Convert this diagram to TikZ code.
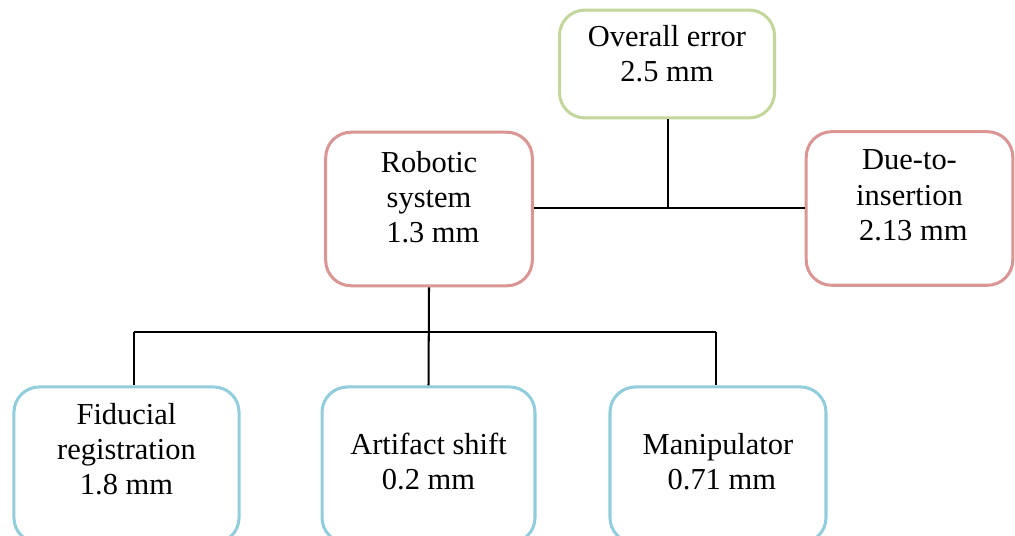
\documentclass[tikz,border=0pt]{standalone}
\usepackage{fontspec}
\setmainfont{Liberation Serif}
\definecolor{topgreen}{RGB}{195,214,155}
\definecolor{midred}{RGB}{217,150,148}
\definecolor{lowblue}{RGB}{146,205,220}

\begin{document}
\begin{tikzpicture}[
    x=0.394pt, y=-0.394pt,
    box/.style={draw, line width=1.2pt, rounded corners=10pt, align=center,
      inner sep=0pt, font=\fontsize{12}{13.8}\selectfont},
    top box/.style={box, draw=topgreen, minimum width=84.7pt, minimum height=42.5pt},
    mid box/.style={box, draw=midred, minimum width=81.4pt, minimum height=60.5pt},
    low box/.style={box, draw=lowblue, minimum height=61.5pt},
    link/.style={line width=0.8pt}
  ]
  \useasboundingbox (0,0) rectangle (1015,536);

  % tree of error sources
  \node[top box, text depth=8.7pt] (overall) at (667,64) {Overall error\\2.5 mm};
  \node[mid box, text depth=9.5pt] (robotic) at (429,209) {Robotic\\system\\\ 1.3 mm};
  \node[mid box, text depth=10.6pt] (insertion) at (909.5,208.5) {Due-to-\\insertion\\\ 2.13 mm};
  \node[low box, minimum width=88.7pt, text depth=13pt] (fiducial) at (126.5,465) {Fiducial\\registration\\1.8 mm};
  \node[low box, minimum width=83.9pt, text depth=3pt] (artifact) at (428.5,465) {Artifact shift\\0.2 mm};
  \node[low box, minimum width=85.1pt, text depth=3pt] (manip) at (718,465) {Manipulator\\\ 0.71 mm};

  % junctions
  \coordinate (top joint) at (668,208);
  \coordinate (left end) at (134,332);
  \coordinate (right end) at (716,332);

  \draw[link] (robotic.east |- top joint) -- (insertion.west |- top joint);
  \draw[link] (overall.south -| top joint) -- (top joint);
  \draw[link] (robotic.south) -- (artifact.north);
  \draw[link] (left end) -- (right end);
  \draw[link] (left end) -- (left end |- fiducial.north);
  \draw[link] (right end) -- (right end |- manip.north);
\end{tikzpicture}
\end{document}
